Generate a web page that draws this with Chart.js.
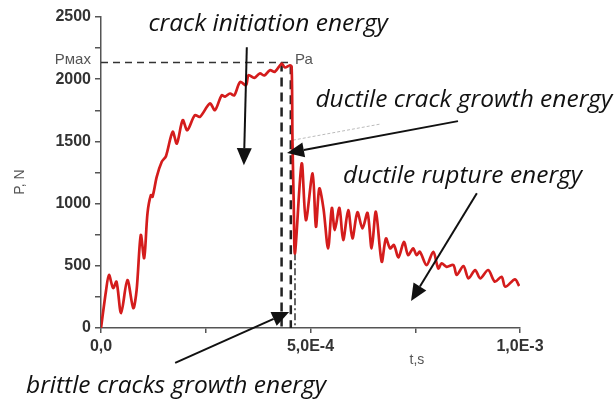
<!DOCTYPE html>
<html>
<head>
<meta charset="utf-8">
<script src="https://cdn.jsdelivr.net/npm/chart.js@4.4.0/dist/chart.umd.min.js"></script>
<style>
  html, body { margin: 0; padding: 0; background: #fff; }
  #wrap { width: 614px; height: 403px; }
</style>
</head>
<body>
<div id="wrap"><canvas id="chart" width="614" height="403"></canvas></div>
<script>
// Force-time record of the impact test (time in microseconds, force in N)
const timeUs = [0, 12, 19, 29, 37, 48, 63, 77, 85, 95, 103, 111, 119, 123, 133, 145, 155, 171, 181, 195, 206, 224, 236, 260, 272, 288, 296, 308, 318, 332, 346, 352, 366, 379, 390, 403, 415, 431, 439, 451, 455,
  457, 460, 463, 479, 489, 505, 513, 521, 531, 542, 551, 558, 569, 578, 590, 600, 612, 624, 636, 646, 656, 670, 680, 690, 699, 710, 723, 733, 745, 753, 761, 777, 793, 805, 813, 825, 841, 849, 865, 877, 893, 905, 924, 940, 956, 965, 988, 998];
const forceN = [0, 300, 426, 321, 372, 120, 385, 160, 305, 747, 562, 924, 1068, 1055, 1215, 1336, 1381, 1577, 1483, 1671, 1590, 1711, 1697, 1805, 1751, 1871, 1860, 1885, 1870, 1978, 1952, 2032, 2010, 2046, 2030, 2072, 2060, 2125, 2094, 2112, 2100,
  1500, 1000, 602, 1323, 867, 1242, 814, 1122, 960, 640, 965, 787, 965, 707, 948, 720, 930, 800, 925, 640, 934, 533, 720, 640, 667, 568, 693, 586, 640, 586, 613, 506, 613, 479, 520, 492, 506, 426, 498, 399, 466, 399, 466, 372, 412, 332, 391, 337];

// construction lines
const pMax = 2134, tPmax = 431;
const pA = 2112, tPa = 453;
const pBrittle = 600, tBrittle = 463;
const faintLine = [[458, 1510], [666, 1639]];

const xTickLabels = { 0: '0,0', 500: '5,0E-4', 1000: '1,0E-3' };

// annotations, placed in data units (us, N)
const notes = [
  { text: 'crack initiation energy', t: 399, p: 2386 },
  { text: 'ductile crack growth energy', t: 866, p: 1775 },
  { text: 'ductile rupture energy', t: 863, p: 1165 },
  { text: 'brittle cracks growth energy', t: 179, p: -522 }
];
const arrows = [
  { from: [348, 2257], to: [341, 1309] },
  { from: [852, 1663], to: [444, 1406] },
  { from: [897, 1084], to: [740, 217] },
  { from: [177, -281], to: [449, 129] }
];

function pts(ts, ps) { return ts.map((t, i) => ({ x: t, y: ps[i] })); }

function drawArrow(ctx, x1, y1, x2, y2) {
  const ang = Math.atan2(y2 - y1, x2 - x1);
  const len = 17, half = 7.5;
  const bx = x2 - len * Math.cos(ang), by = y2 - len * Math.sin(ang);
  ctx.beginPath();
  ctx.moveTo(x1, y1);
  ctx.lineTo(bx, by);
  ctx.stroke();
  ctx.beginPath();
  ctx.moveTo(x2, y2);
  ctx.lineTo(bx + half * Math.sin(ang), by - half * Math.cos(ang));
  ctx.lineTo(bx - half * Math.sin(ang), by + half * Math.cos(ang));
  ctx.closePath();
  ctx.fill();
}

const notesPlugin = {
  id: 'notes',
  afterDatasetsDraw(chart) {
    const { ctx, scales: { x, y } } = chart;
    ctx.save();
    ctx.fillStyle = '#111';
    ctx.strokeStyle = '#111';
    ctx.lineWidth = 2;
    ctx.font = 'italic 24.5px "Open Sans"';
    ctx.textAlign = 'center';
    ctx.textBaseline = 'alphabetic';
    notes.forEach(n => ctx.fillText(n.text, x.getPixelForValue(n.t), y.getPixelForValue(n.p)));
    arrows.forEach(a => drawArrow(ctx,
      x.getPixelForValue(a.from[0]), y.getPixelForValue(a.from[1]),
      x.getPixelForValue(a.to[0]), y.getPixelForValue(a.to[1])));

    ctx.fillStyle = '#555';
    ctx.font = '15px "Liberation Sans"';
    ctx.textAlign = 'right';
    ctx.fillText('Рмах', x.getPixelForValue(-24), y.getPixelForValue(pMax) + 1);
    ctx.textAlign = 'left';
    ctx.fillText('Ра', x.getPixelForValue(463), y.getPixelForValue(pA) - 1);
    ctx.textAlign = 'center';
    ctx.textBaseline = 'middle';
    ctx.font = '14px "Liberation Sans"';
    ctx.fillText('t,s', x.getPixelForValue(754), y.getPixelForValue(-257));
    ctx.translate(x.getPixelForValue(-193), y.getPixelForValue(1173));
    ctx.rotate(-Math.PI / 2);
    ctx.fillText('P, N', 0, 0);
    ctx.restore();
  }
};

new Chart(document.getElementById('chart'), {
  type: 'line',
  data: {
    datasets: [
      {
        data: pts(timeUs, forceN),
        borderColor: '#d41c1c',
        borderWidth: 2.7,
        pointRadius: 0,
        tension: 0.3,
        order: 0
      },
      {
        data: [{ x: 0, y: pMax }, { x: tPa, y: pMax }],
        borderColor: '#333',
        borderWidth: 1.5,
        borderDash: [7, 5],
        pointRadius: 0,
        order: 1
      },
      {
        data: [{ x: tPmax, y: pMax }, { x: tPmax, y: 0 }],
        borderColor: '#222',
        borderWidth: 2.5,
        borderDash: [9, 6],
        pointRadius: 0,
        order: 1
      },
      {
        data: [{ x: tPa, y: pA }, { x: tPa, y: 0 }],
        borderColor: '#222',
        borderWidth: 2.5,
        borderDash: [9, 6],
        pointRadius: 0,
        order: 1
      },
      {
        data: [{ x: tBrittle, y: pBrittle }, { x: tBrittle, y: 0 }],
        borderColor: '#333',
        borderWidth: 1.5,
        borderDash: [7, 3, 2, 3],
        pointRadius: 0,
        order: 1
      },
      {
        data: faintLine.map(([t, p]) => ({ x: t, y: p })),
        borderColor: '#bbb',
        borderWidth: 1,
        borderDash: [3, 2],
        pointRadius: 0,
        order: 2
      }
    ]
  },
  options: {
    responsive: false,
    animation: false,
    layout: { padding: { left: 0, top: 17, right: 94, bottom: 35 } },
    plugins: { legend: { display: false }, tooltip: { enabled: false } },
    scales: {
      x: {
        type: 'linear',
        min: 0,
        max: 1000,
        afterFit: s => { s.height = 40; },
        border: { display: true, color: '#555', width: 1.5 },
        grid: { drawOnChartArea: false, drawTicks: true, tickLength: 5, color: '#555', lineWidth: 1.5 },
        ticks: {
          stepSize: 250,
          autoSkip: false,
          maxRotation: 0,
          padding: 4,
          color: '#333',
          font: { family: 'Liberation Sans', size: 16, weight: 'bold' },
          callback: v => xTickLabels[v] || ''
        }
      },
      y: {
        min: 0,
        max: 2500,
        afterFit: s => { s.width = 101; },
        border: { display: true, color: '#555', width: 1.5 },
        grid: { drawOnChartArea: false, drawTicks: true, tickLength: 6, color: '#555', lineWidth: 1.5 },
        ticks: {
          stepSize: 250,
          autoSkip: false,
          padding: 4,
          color: '#333',
          font: { family: 'Liberation Sans', size: 16, weight: 'bold' },
          callback: v => (v % 500 === 0 ? v : '')
        }
      }
    }
  },
  plugins: [notesPlugin]
});
</script>
</body>
</html>
